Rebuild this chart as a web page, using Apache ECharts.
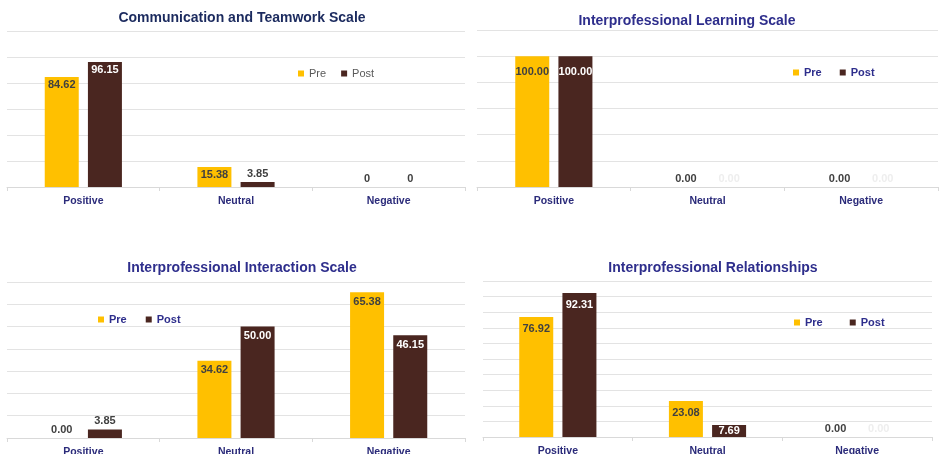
<!DOCTYPE html>
<html>
<head>
<meta charset="utf-8">
<script src="https://cdn.jsdelivr.net/npm/echarts@6/dist/echarts.min.js"></script>
<style>
  html, body { margin: 0; padding: 0; background: #fff; }
  #chart { width: 940px; height: 454px; }
</style>
</head>
<body>
<div id="chart"></div>
<script>
  // data
  var categories = ['Positive', 'Neutral', 'Negative']
  var titles = [
    'Communication and Teamwork Scale',
    'Interprofessional Learning Scale',
    'Interprofessional Interaction Scale',
    'Interprofessional Relationships'
  ]
  var preComm = [84.62, 15.38, 0]
  var postComm = [96.15, 3.85, 0]
  var preLearn = [100, 0, 0]
  var postLearn = [100, 0, 0]
  var preInter = [0, 34.62, 65.38]
  var postInter = [3.85, 50, 46.15]
  var preRel = [76.92, 23.08, 0]
  var postRel = [92.31, 7.69, 0]
  var yMax = [120, 120, 70, 100]
  var yStep = [20, 20, 10, 10]

  var preData = [preComm, preLearn, preInter, preRel]
  var postData = [postComm, postLearn, postInter, postRel]

  // layout / style per panel
  var panels = [
    {grid: {left: 7, top: 31, width: 458, height: 156}, titleX: 237, titleY: 6, titleColor: '#1b2a5e',
      legend: {left: 293, top: 63, gap: 15}, legendColor: '#595959', legendWeight: 'normal', zeroInt: true, postZero: '#404040', dist: 2},
    {grid: {left: 477, top: 30, width: 461, height: 157}, titleX: 682, titleY: 9, titleColor: '#2e2e8c',
      legend: {left: 788, top: 62, gap: 18}, legendColor: '#2e2e8c', legendWeight: 'bold', zeroInt: false, postZero: '#eeeeee', dist: 10},
    {grid: {left: 7, top: 282, width: 458, height: 156}, titleX: 237, titleY: 256, titleColor: '#2e2e8c',
      legend: {left: 93, top: 309, gap: 19}, legendColor: '#2e2e8c', legendWeight: 'bold', zeroInt: false, postZero: '#404040', dist: 4},
    {grid: {left: 483, top: 281, width: 449, height: 156}, titleX: 708, titleY: 256, titleColor: '#2e2e8c',
      legend: {left: 789, top: 312, gap: 27}, legendColor: '#2e2e8c', legendWeight: 'bold', zeroInt: false, postZero: '#eeeeee', dist: 6}
  ]

  var PRE = '#ffc000'
  var POST = '#4a2620'
  var FONT = 'Liberation Sans, Arial, sans-serif'

  function fmt (v, zeroInt) {
    if (v === 0 && zeroInt) return '0'
    return v.toFixed(2)
  }

  function preItems (arr, p) {
    return arr.map(function (v) {
      return {
        value: v,
        label: {
          position: v > 0 ? 'insideTop' : 'top',
          distance: v > 0 ? p.dist : 3,
          color: '#404040',
          formatter: fmt(v, p.zeroInt)
        }
      }
    })
  }

  function postItems (arr, p) {
    return arr.map(function (v) {
      var inside = v >= 5
      var pos = 'top'
      if (inside) pos = v < 10 ? 'inside' : 'insideTop'
      return {
        value: v,
        label: {
          position: pos,
          distance: inside ? p.dist : 3,
          color: inside ? '#ffffff' : (v === 0 ? p.postZero : '#404040'),
          formatter: fmt(v, p.zeroInt)
        }
      }
    })
  }

  var option = {
    animation: false,
    textStyle: {fontFamily: FONT},
    title: [],
    legend: [],
    grid: [],
    xAxis: [],
    yAxis: [],
    series: []
  }

  panels.forEach(function (p, i) {
    option.title.push({
      text: titles[i],
      left: p.titleX,
      top: p.titleY,
      textAlign: 'center',
      textStyle: {fontSize: 14, fontWeight: 'bold', color: p.titleColor, fontFamily: FONT}
    })
    option.legend.push({
      left: p.legend.left,
      top: p.legend.top,
      icon: 'rect',
      itemWidth: 6,
      itemHeight: 6,
      itemGap: p.legend.gap,
      data: ['Pre', 'Post'],
      textStyle: {fontSize: 11, color: p.legendColor, fontWeight: p.legendWeight, fontFamily: FONT}
    })
    option.grid.push({
      left: p.grid.left,
      top: p.grid.top,
      width: p.grid.width,
      height: p.grid.height,
      outerBoundsMode: 'none'
    })
    option.xAxis.push({
      type: 'category',
      gridIndex: i,
      data: categories,
      axisLine: {lineStyle: {color: '#d9d9d9'}},
      axisTick: {show: true, length: 4, lineStyle: {color: '#d9d9d9'}},
      axisLabel: {margin: 9, fontSize: 10.5, fontWeight: 'bold', color: '#2b2b7a', fontFamily: FONT}
    })
    option.yAxis.push({
      type: 'value',
      gridIndex: i,
      min: 0,
      max: yMax[i],
      interval: yStep[i],
      axisLabel: {show: false},
      axisLine: {show: false},
      axisTick: {show: false},
      splitLine: {lineStyle: {color: '#e3e3e3'}}
    })
    option.series.push({
      name: 'Pre',
      type: 'bar',
      xAxisIndex: i,
      yAxisIndex: i,
      barWidth: 34,
      barGap: '27%',
      itemStyle: {color: PRE},
      label: {show: true, fontSize: 11, fontWeight: 'bold', fontFamily: FONT},
      data: preItems(preData[i], p)
    })
    option.series.push({
      name: 'Post',
      type: 'bar',
      xAxisIndex: i,
      yAxisIndex: i,
      barWidth: 34,
      barGap: '27%',
      itemStyle: {color: POST},
      label: {show: true, fontSize: 11, fontWeight: 'bold', fontFamily: FONT},
      data: postItems(postData[i], p)
    })
  })

  var myChart = echarts.init(document.getElementById('chart'))
  myChart.setOption(option)
  window.onresize = function () {
    myChart.resize()
  }
</script>
</body>
</html>
